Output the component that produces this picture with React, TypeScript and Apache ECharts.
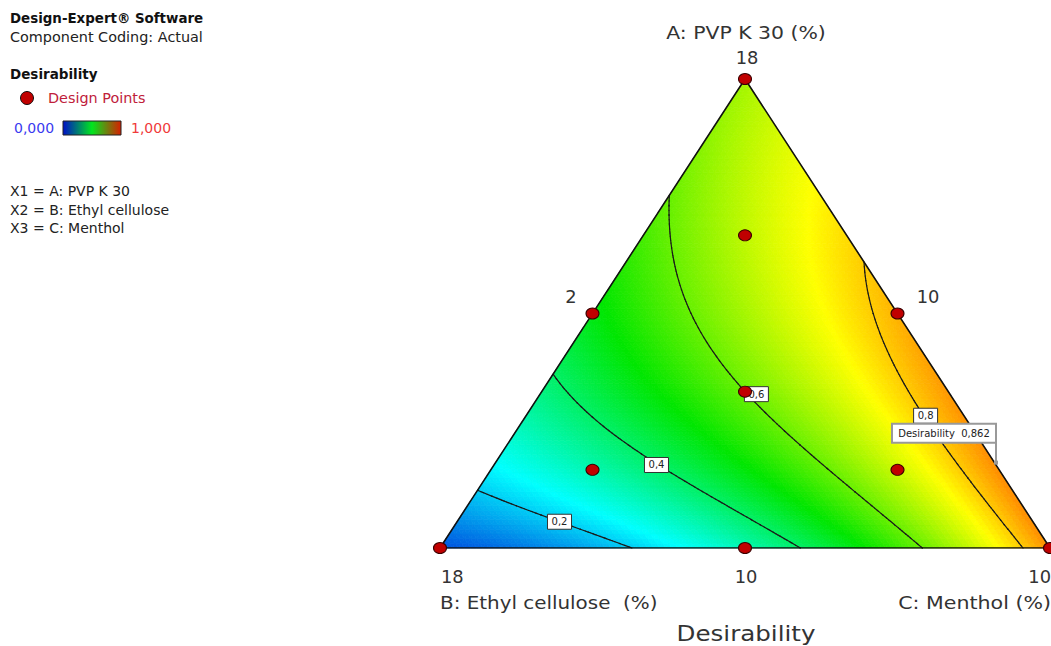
import React, { useEffect, useRef } from "react";
import * as echarts from "echarts";

// Mixture model (Scheffé special cubic in pseudo-components A, B, C), coefficients
const linearCoefs = [0.66, 0.08, 0.859]; // A, B, C
const binaryCoefs = [0.45, 0.262, -0.58]; // AB, AC, BC
const ternaryCoefs = [1.41]; // ABC

const contourLevels = [0.2, 0.4, 0.6, 0.8];
const contourLabels = ["0,2", "0,4", "0,6", "0,8"];
const contourLabelA = [0.056, 0.177, 0.328, 0.282]; // A proportion at which each contour label sits
const contourLabelDx = [0, -2, 9, 2]; // label nudge along x, px

// design points (pseudo proportions)
const designA = [1, 0, 0, 0.5, 0.5, 0, 2 / 3, 1 / 6, 1 / 6, 1 / 3];
const designB = [0, 1, 0, 0.5, 0, 0.5, 1 / 6, 2 / 3, 1 / 6, 1 / 3];
const designC = [0, 0, 1, 0, 0.5, 0.5, 1 / 6, 1 / 6, 2 / 3, 1 / 3];

const flagA = [0.182];
const flagC = [0.818];
const flagText = ["Desirability  0,862"];

const colorStops = ["#0000d0", "#00ffff", "#00e600", "#ffff00", "#ff0000"];

const FONT = '"DejaVu Sans"';

function model(a: number, b: number, c: number) {
  return (
    linearCoefs[0] * a + linearCoefs[1] * b + linearCoefs[2] * c +
    binaryCoefs[0] * a * b + binaryCoefs[1] * a * c + binaryCoefs[2] * b * c +
    ternaryCoefs[0] * a * b * c
  );
}
const toXY = (a: number, c: number) => [c + a / 2, a];

function buildMesh(N: number) {
  const vals: number[][] = [];
  for (let i = 0; i <= N; i++) {
    vals[i] = [];
    for (let j = 0; j <= N - i; j++) {
      const a = i / N, c = j / N;
      vals[i][j] = model(a, Math.max(0, 1 - a - c), c);
    }
  }
  const surface: number[][] = [];
  const segs: number[][] = [];
  const tri = (p: number[][]) => {
    const pts = p.map(([i, j]) => toXY(i / N, j / N));
    const v = p.map(([i, j]) => vals[i][j]);
    surface.push([pts[0][0], pts[0][1], pts[1][0], pts[1][1], pts[2][0], pts[2][1], (v[0] + v[1] + v[2]) / 3]);
    contourLevels.forEach((L) => {
      const cr: number[][] = [];
      for (let e = 0; e < 3; e++) {
        const s = e, t = (e + 1) % 3;
        if ((v[s] - L) * (v[t] - L) < 0) {
          const f = (L - v[s]) / (v[t] - v[s]);
          cr.push([pts[s][0] + f * (pts[t][0] - pts[s][0]), pts[s][1] + f * (pts[t][1] - pts[s][1])]);
        }
      }
      if (cr.length === 2) segs.push([cr[0][0], cr[0][1], cr[1][0], cr[1][1], L]);
    });
  };
  for (let i = 0; i < N; i++) {
    for (let j = 0; j < N - i; j++) {
      tri([[i, j], [i, j + 1], [i + 1, j]]);
      if (i + j + 2 <= N) tri([[i + 1, j], [i, j + 1], [i + 1, j + 1]]);
    }
  }
  return { surface, segs };
}

function labelPoint(L: number, a: number) {
  let lo = 0, hi = 1 - a;
  for (let k = 0; k < 50; k++) {
    const m = (lo + hi) / 2;
    if (model(a, 1 - a - m, m) < L) lo = m; else hi = m;
  }
  return toXY(a, (lo + hi) / 2);
}

function txt(text: string, x: number, y: number, size: number, opts: any = {}) {
  return {
    type: "text",
    x, y,
    scaleX: opts.sx || 1,
    silent: true,
    style: {
      text,
      fill: opts.color || "#333",
      font: `${opts.bold ? "bold " : ""}${size}px ${FONT}`,
      align: opts.align || "left",
      verticalAlign: "middle",
      textAlign: opts.align || "left",
      textVerticalAlign: "middle",
    },
  };
}

export default function App() {
  const ref = useRef<HTMLDivElement>(null);
  useEffect(() => {
    if (!ref.current) return;
    const chart = echarts.init(ref.current, null, { renderer: "svg" });
    const { surface, segs } = buildMesh(100);
    const labelData = contourLevels.map((L, k) => {
      const p = labelPoint(L, contourLabelA[k]);
      return [p[0], p[1], k];
    });
    const designData = designA.map((a, k) => toXY(a, designC[k]).concat([designB[k]]));
    const flagData = [toXY(flagA[0], flagC[0])];

    const option: any = {
      animation: false,
      grid: { left: 440, right: 1, top: 79, bottom: 98 },
      xAxis: { type: "value", min: 0, max: 1, show: false },
      yAxis: { type: "value", min: 0, max: 1, show: false },
      visualMap: {
        show: false,
        type: "continuous",
        min: 0,
        max: 1,
        dimension: 6,
        seriesIndex: 0,
        inRange: { color: colorStops },
      },
      series: [
        {
          type: "custom",
          z: 1,
          silent: true,
          dimensions: ["x1", "y1", "x2", "y2", "x3", "y3", "d"],
          encode: { x: [0, 2, 4], y: [1, 3, 5] },
          data: surface,
          renderItem: (params: any, api: any) => {
            const p1 = api.coord([api.value(0), api.value(1)]);
            const p2 = api.coord([api.value(2), api.value(3)]);
            const p3 = api.coord([api.value(4), api.value(5)]);
            const col = api.visual("color");
            return {
              type: "polygon",
              shape: { points: [p1, p2, p3] },
              style: { fill: col, stroke: col, lineWidth: 0.8 },
            };
          },
        },
        {
          type: "custom",
          z: 2,
          silent: true,
          encode: { x: [0, 2], y: [1, 3] },
          data: segs,
          renderItem: (params: any, api: any) => {
            const p1 = api.coord([api.value(0), api.value(1)]);
            const p2 = api.coord([api.value(2), api.value(3)]);
            return {
              type: "line",
              shape: { x1: p1[0], y1: p1[1], x2: p2[0], y2: p2[1] },
              style: { stroke: "#1a1a1a", lineWidth: 1.2, lineCap: "round" },
            };
          },
        },
        {
          type: "line",
          z: 3,
          silent: true,
          symbol: "none",
          data: [[0, 0], [1, 0], [0.5, 1], [0, 0]],
          lineStyle: { color: "#111", width: 1.6 },
        },
        {
          type: "custom",
          z: 4,
          silent: true,
          encode: { x: 0, y: 1 },
          data: labelData,
          renderItem: (params: any, api: any) => {
            const k = api.value(2);
            const p = api.coord([api.value(0), api.value(1)]);
            const cx = p[0] + contourLabelDx[k];
            return {
              type: "group",
              children: [
                {
                  type: "rect",
                  shape: { x: cx - 12, y: p[1] - 7.5, width: 24, height: 15 },
                  style: { fill: "#fff", stroke: "#333", lineWidth: 1 },
                },
                {
                  type: "text",
                  style: {
                    text: contourLabels[k],
                    x: cx,
                    y: p[1],
                    align: "center",
                    verticalAlign: "middle",
                    font: `10px ${FONT}`,
                    fill: "#222",
                  },
                },
              ],
            };
          },
        },
        {
          type: "scatter",
          z: 5,
          silent: true,
          symbol: "circle",
          symbolSize: [13, 11],
          data: designData,
          itemStyle: { color: "#c00000", borderColor: "#3a0000", borderWidth: 1, opacity: 1 },
        },
        {
          type: "custom",
          z: 6,
          silent: true,
          encode: { x: 0, y: 1 },
          data: flagData,
          renderItem: (params: any, api: any) => {
            const p = api.coord([api.value(0), api.value(1)]);
            const x = Math.round(p[0]) + 2;
            const y = p[1];
            return {
              type: "group",
              children: [
                {
                  type: "line",
                  shape: { x1: x, y1: y, x2: x, y2: y - 20 },
                  style: { stroke: "#999", lineWidth: 2 },
                },
                {
                  type: "rect",
                  shape: { x: x - 2, y: y - 2, width: 4, height: 4 },
                  style: { fill: "#999" },
                },
                {
                  type: "rect",
                  shape: { x: x - 104, y: y - 39, width: 104, height: 19 },
                  style: { fill: "#fff", stroke: "#999", lineWidth: 2 },
                },
                {
                  type: "text",
                  style: {
                    text: flagText[0],
                    x: x - 52,
                    y: y - 29.5,
                    align: "center",
                    verticalAlign: "middle",
                    font: `10px ${FONT}`,
                    fill: "#222",
                  },
                },
              ],
            };
          },
        },
      ],
      graphic: [
        txt("Design-Expert® Software", 10, 18, 13.4, { bold: true, color: "#111" }),
        txt("Component Coding: Actual", 10, 37, 14.4, { color: "#222" }),
        txt("Desirability", 10, 74, 13.5, { bold: true, color: "#111" }),
        {
          type: "circle",
          silent: true,
          shape: { cx: 27, cy: 98, r: 6.5 },
          style: { fill: "#c00000", stroke: "#111", lineWidth: 1 },
        },
        txt("Design Points", 48, 98, 14.4, { color: "#c0203a" }),
        txt("0,000", 14, 128, 14, { color: "#3a3af0" }),
        {
          type: "rect",
          silent: true,
          shape: { x: 63, y: 121, width: 58, height: 14 },
          style: {
            fill: new echarts.graphic.LinearGradient(0, 0, 1, 0, [
              { offset: 0, color: "#0010c8" },
              { offset: 0.5, color: "#00e61e" },
              { offset: 1, color: "#d81e00" },
            ]),
            stroke: "#222",
            lineWidth: 1,
          },
        },
        txt("1,000", 131, 128, 14, { color: "#f03a3a" }),
        txt("X1 = A: PVP K 30", 10, 191, 14, { color: "#222" }),
        txt("X2 = B: Ethyl cellulose", 10, 210, 14, { color: "#222" }),
        txt("X3 = C: Menthol", 10, 228, 14, { color: "#222" }),

        txt("A: PVP K 30 (%)", 746, 33, 17, { align: "center", color: "#333", sx: 1.2 }),
        txt("18", 747, 58, 17, { align: "center", color: "#333", sx: 1.05 }),
        txt("2", 571, 297, 17, { align: "center", color: "#333", sx: 1.05 }),
        txt("10", 928, 297, 17, { align: "center", color: "#333", sx: 1.05 }),
        txt("18", 441, 577, 17, { color: "#333", sx: 1.05 }),
        txt("10", 746, 577, 17, { align: "center", color: "#333", sx: 1.05 }),
        txt("10", 1051, 577, 17, { align: "right", color: "#333", sx: 1.05 }),
        txt("B: Ethyl cellulose  (%)", 440, 603, 17, { color: "#333", sx: 1.17 }),
        txt("C: Menthol (%)", 1051, 603, 17, { align: "right", color: "#333", sx: 1.21 }),
        txt("Desirability", 746, 634, 21, { align: "center", color: "#333", sx: 1.17 }),

        txt("2", 745, 93, 9, { align: "center", color: "rgba(30,60,0,0.75)" }),
        txt("2", 452, 538, 9, { align: "center", color: "rgba(20,20,60,0.7)" }),
        txt("2", 1040, 539, 9, { align: "center", color: "rgba(60,30,0,0.7)" }),
      ],
    };
    chart.setOption(option);
    return () => chart.dispose();
  }, []);
  return (
    <div
      ref={ref}
      style={{ position: "fixed", left: 0, top: 0, width: 1051, height: 646, background: "#fff" }}
    />
  );
}
